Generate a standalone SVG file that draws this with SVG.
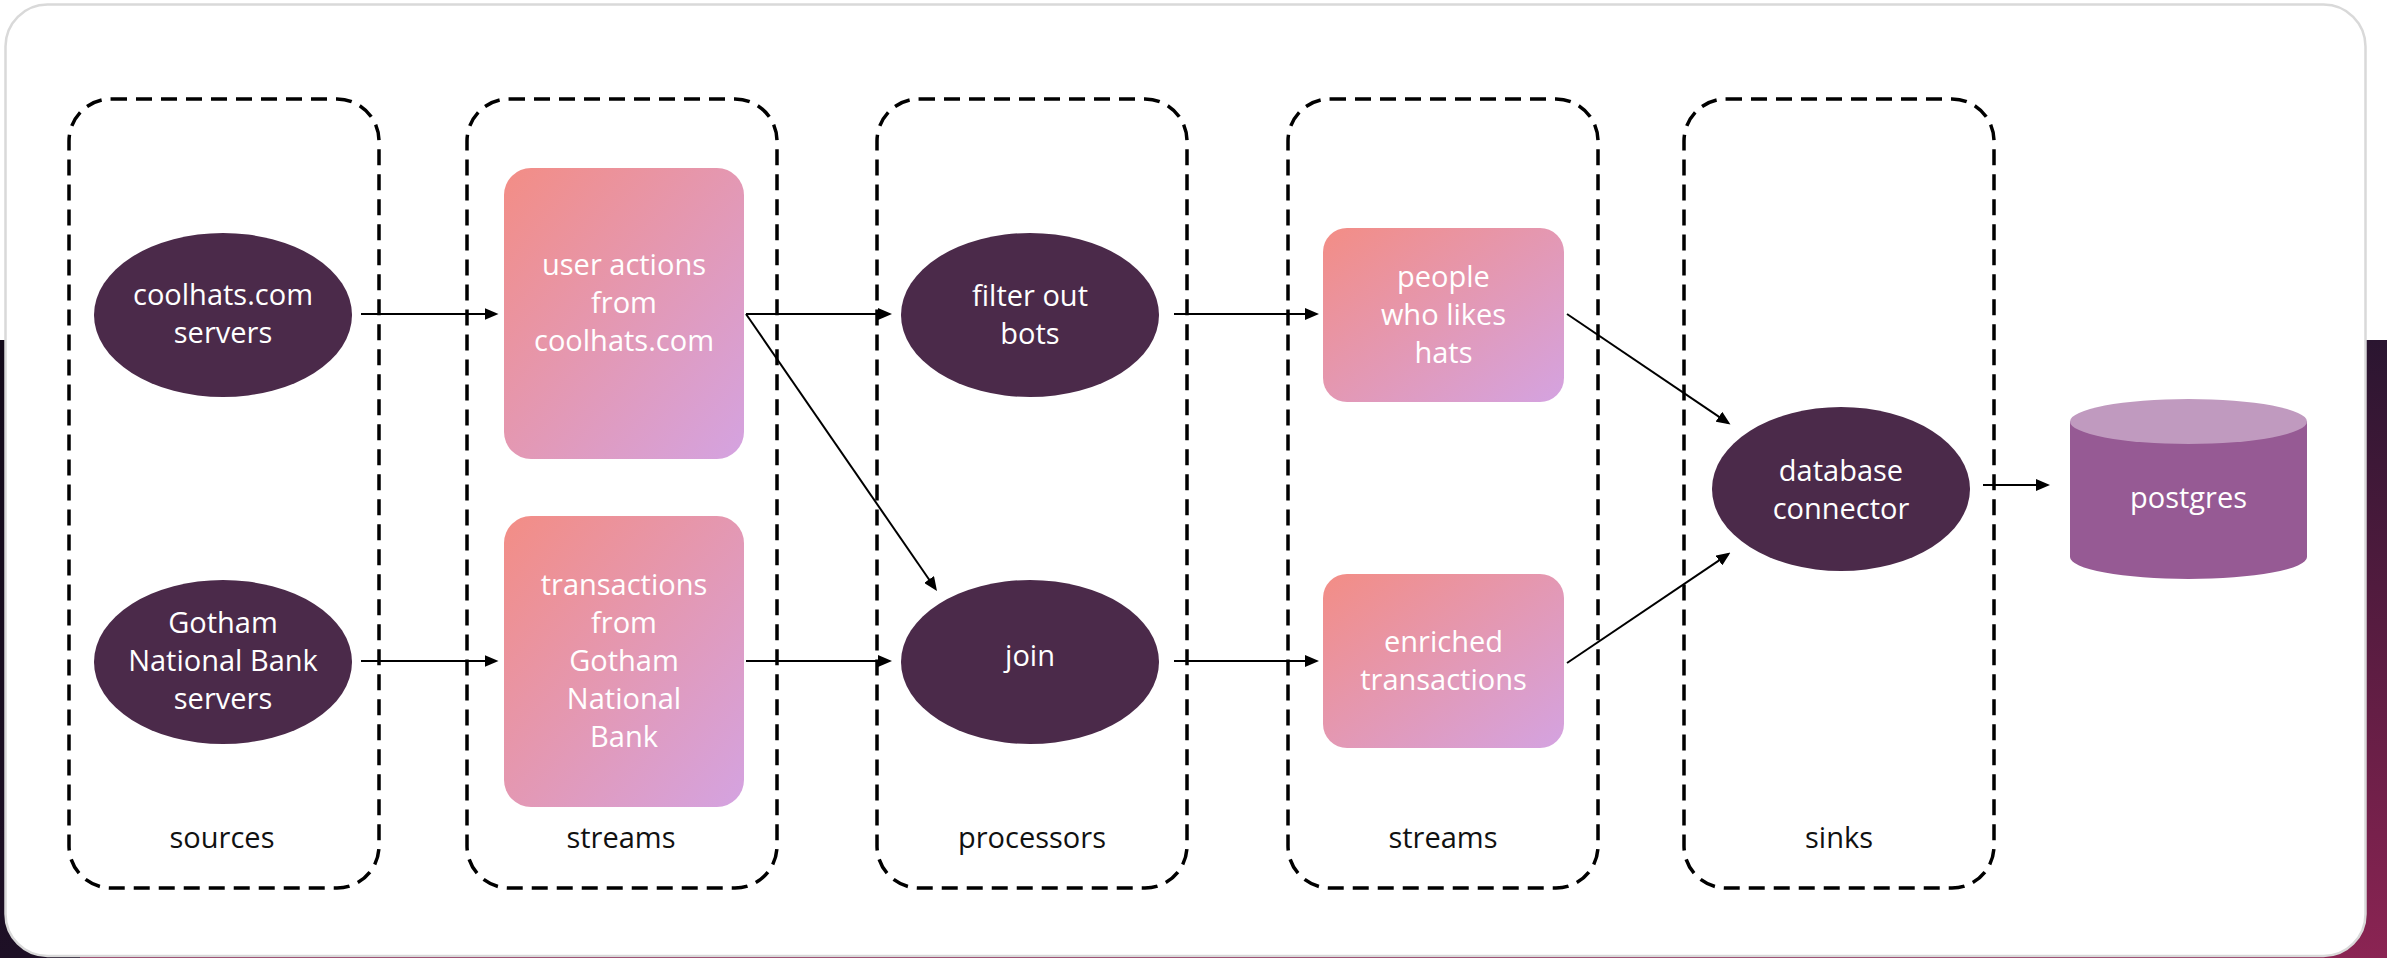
<svg xmlns="http://www.w3.org/2000/svg" width="2387" height="958" viewBox="0 0 2387 958">
  <defs>
    <linearGradient id="bgGrad" x1="0" y1="0" x2="0" y2="1">
      <stop offset="0" stop-color="#2a1530"/>
      <stop offset="1" stop-color="#8b2453"/>
    </linearGradient>
    <linearGradient id="bgLeft" x1="0" y1="0" x2="0" y2="1">
      <stop offset="0" stop-color="#130a1a"/>
      <stop offset="1" stop-color="#1e1026"/>
    </linearGradient>
    <linearGradient id="streamGrad" x1="0" y1="0" x2="1" y2="1">
      <stop offset="0" stop-color="#f38d85"/>
      <stop offset="1" stop-color="#d4a3e1"/>
    </linearGradient>
    <marker id="arrow" markerUnits="userSpaceOnUse" markerWidth="14" markerHeight="12" refX="11" refY="6" orient="auto">
      <path d="M0,0 L14,6 L0,12 Z" fill="#000"/>
    </marker>
    <style>
      .group { fill: none; stroke: #000; stroke-width: 3.5; stroke-dasharray: 16 9; }
      .group-label { font-family: "Open Sans", "Liberation Sans", sans-serif; font-size: 29px; fill: #111; text-anchor: middle; }
      .proc { fill: #4b2a4a; }
      .stream { fill: url(#streamGrad); }
      .node-text { font-family: "Open Sans", "Liberation Sans", sans-serif; font-size: 29px; fill: #fff; text-anchor: middle; }
      .edge { fill: none; stroke: #000; stroke-width: 2; marker-end: url(#arrow); }
    </style>
  </defs>

  <!-- page backdrop -->
  <rect x="0" y="0" width="2387" height="958" fill="#fff"/>
  <rect x="0" y="340" width="2387" height="618" fill="url(#bgGrad)"/>
  <rect x="0" y="340" width="80" height="618" fill="url(#bgLeft)"/>

  <!-- card -->
  <rect x="5.5" y="4.5" width="2360" height="951.5" rx="42" fill="#fff" stroke="#d9d9d9" stroke-width="2.5"/>

  <!-- stage groups -->
  <g id="group-sources">
    <rect class="group" x="69" y="99" width="310" height="789" rx="42"/>
    <text class="group-label" x="222" y="848">sources</text>
  </g>
  <g id="group-streams-in">
    <rect class="group" x="467" y="99" width="310" height="789" rx="42"/>
    <text class="group-label" x="621" y="848">streams</text>
  </g>
  <g id="group-processors">
    <rect class="group" x="877" y="99" width="310" height="789" rx="42"/>
    <text class="group-label" x="1032" y="848">processors</text>
  </g>
  <g id="group-streams-out">
    <rect class="group" x="1288" y="99" width="310" height="789" rx="42"/>
    <text class="group-label" x="1443" y="848">streams</text>
  </g>
  <g id="group-sinks">
    <rect class="group" x="1684" y="99" width="310" height="789" rx="42"/>
    <text class="group-label" x="1839" y="848">sinks</text>
  </g>

  <!-- connectors -->
  <g id="connectors">
    <line class="edge" x1="361" y1="314" x2="495.5" y2="314"/>
    <line class="edge" x1="361" y1="661" x2="495.5" y2="661"/>
    <line class="edge" x1="746" y1="314" x2="889" y2="314"/>
    <line class="edge" x1="746" y1="314" x2="935.3" y2="588.5"/>
    <line class="edge" x1="746" y1="661" x2="889" y2="661"/>
    <line class="edge" x1="1174" y1="314" x2="1316" y2="314"/>
    <line class="edge" x1="1174" y1="661" x2="1316" y2="661"/>
    <line class="edge" x1="1567" y1="314" x2="1728" y2="422.9"/>
    <line class="edge" x1="1567" y1="663" x2="1728" y2="554.3"/>
    <line class="edge" x1="1983" y1="485" x2="2047" y2="485"/>
  </g>

  <!-- sources -->
  <g id="node-coolhats-servers">
    <ellipse class="proc" cx="223" cy="315" rx="129" ry="82"/>
    <text class="node-text" x="223" y="305">coolhats.com</text>
    <text class="node-text" x="223" y="343">servers</text>
  </g>
  <g id="node-gotham-servers">
    <ellipse class="proc" cx="223" cy="662" rx="129" ry="82"/>
    <text class="node-text" x="223" y="633">Gotham</text>
    <text class="node-text" x="223" y="671">National Bank</text>
    <text class="node-text" x="223" y="709">servers</text>
  </g>

  <!-- input streams -->
  <g id="node-user-actions">
    <rect class="stream" x="504" y="168" width="240" height="291" rx="27"/>
    <text class="node-text" x="624" y="275">user actions</text>
    <text class="node-text" x="624" y="313">from</text>
    <text class="node-text" x="624" y="351">coolhats.com</text>
  </g>
  <g id="node-transactions">
    <rect class="stream" x="504" y="516" width="240" height="291" rx="27"/>
    <text class="node-text" x="624" y="595">transactions</text>
    <text class="node-text" x="624" y="633">from</text>
    <text class="node-text" x="624" y="671">Gotham</text>
    <text class="node-text" x="624" y="709">National</text>
    <text class="node-text" x="624" y="747">Bank</text>
  </g>

  <!-- processors -->
  <g id="node-filter-bots">
    <ellipse class="proc" cx="1030" cy="315" rx="129" ry="82"/>
    <text class="node-text" x="1030" y="306">filter out</text>
    <text class="node-text" x="1030" y="344">bots</text>
  </g>
  <g id="node-join">
    <ellipse class="proc" cx="1030" cy="662" rx="129" ry="82"/>
    <text class="node-text" x="1030" y="666">join</text>
  </g>

  <!-- output streams -->
  <g id="node-hat-people">
    <rect class="stream" x="1323" y="228" width="241" height="174" rx="24"/>
    <text class="node-text" x="1443.5" y="287">people</text>
    <text class="node-text" x="1443.5" y="325">who likes</text>
    <text class="node-text" x="1443.5" y="363">hats</text>
  </g>
  <g id="node-enriched">
    <rect class="stream" x="1323" y="574" width="241" height="174" rx="24"/>
    <text class="node-text" x="1443.5" y="652">enriched</text>
    <text class="node-text" x="1443.5" y="690">transactions</text>
  </g>

  <!-- sink -->
  <g id="node-db-connector">
    <ellipse class="proc" cx="1841" cy="489" rx="129" ry="82"/>
    <text class="node-text" x="1841" y="481">database</text>
    <text class="node-text" x="1841" y="519">connector</text>
  </g>

  <!-- database -->
  <g id="node-postgres">
    <path d="M2070,421.5 L2070,557 A118.5,22 0 0 0 2307,557 L2307,421.5 Z" fill="#965a94"/>
    <ellipse cx="2188.5" cy="421.5" rx="118.5" ry="22.5" fill="#c09abf"/>
    <text class="node-text" x="2188.5" y="508">postgres</text>
  </g>
</svg>
